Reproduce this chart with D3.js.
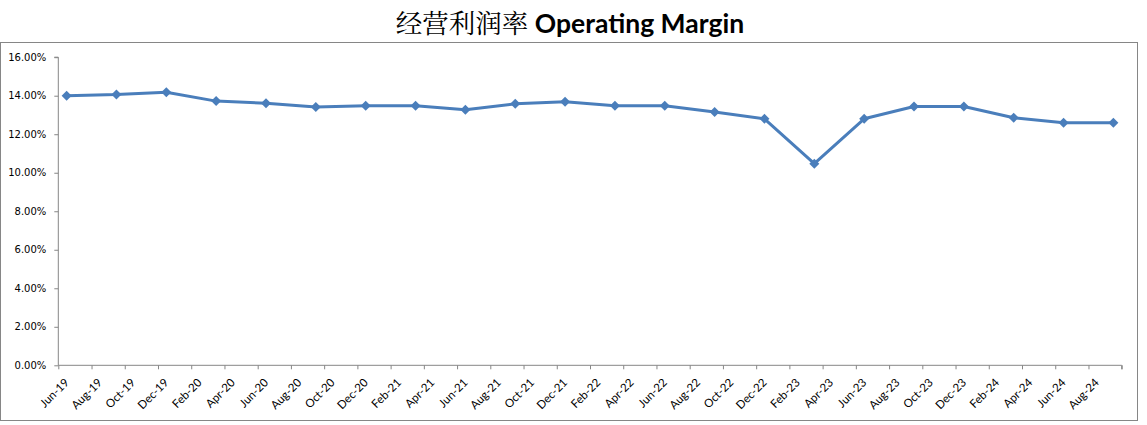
<!DOCTYPE html>
<html>
<head>
<meta charset="utf-8">
<script src="https://cdn.jsdelivr.net/npm/d3@7"></script>
<style>
  html, body { margin: 0; padding: 0; background: #fff; }
  svg { display: block; }
</style>
</head>
<body>
<svg id="chart" width="1147" height="425"></svg>
<script>
// ---- data ----
const periods = ["2019-06","2019-09","2019-12","2020-03","2020-06","2020-09","2020-12","2021-03",
  "2021-06","2021-09","2021-12","2022-03","2022-06","2022-09","2022-12","2023-03",
  "2023-06","2023-09","2023-12","2024-03","2024-06","2024-09"];
const margins = [0.1400,0.1406,0.1418,0.1372,0.1361,0.1341,0.1348,0.1348,
  0.1327,0.1358,0.1369,0.1348,0.1348,0.1315,0.1280,0.1047,
  0.1280,0.1344,0.1344,0.1286,0.1260,0.1260];
const xTickLabels = ["Jun-19","Aug-19","Oct-19","Dec-19","Feb-20","Apr-20","Jun-20","Aug-20",
  "Oct-20","Dec-20","Feb-21","Apr-21","Jun-21","Aug-21","Oct-21","Dec-21",
  "Feb-22","Apr-22","Jun-22","Aug-22","Oct-22","Dec-22","Feb-23","Apr-23",
  "Jun-23","Aug-23","Oct-23","Dec-23","Feb-24","Apr-24","Jun-24","Aug-24"];
const yTicks = [0,0.02,0.04,0.06,0.08,0.10,0.12,0.14,0.16];
const startMonth = "2019-06";
const monthCount = 64;
const titleCn = "经营利润率";
const titleEn = "Operating Margin";

// ---- layout ----
const svg = d3.select("#chart");
const L = 58.3, R = 1121.7, T = 57.2, B = 365.3;
const lineColor = "#4a7ebb", axisColor = "#868686";

function monthIndex(s) {
  const [y, m] = s.split("-").map(Number);
  const [y0, m0] = startMonth.split("-").map(Number);
  return (y - y0) * 12 + (m - m0);
}

const x = d3.scaleLinear().domain([0, monthCount]).range([L, R]);
const y = d3.scaleLinear().domain([0, 0.16]).range([B, T]);

// outer border
svg.append("rect").attr("x", 0.5).attr("y", 42.5).attr("width", 1137).attr("height", 378)
  .attr("fill", "#fff").attr("stroke", axisColor).attr("stroke-width", 1);

// title
const title = svg.append("text").attr("x", 570).attr("y", 33).attr("text-anchor", "middle")
  .attr("fill", "#000");
title.append("tspan").text(titleCn)
  .attr("font-family", "'Noto Serif CJK SC','Noto Sans CJK SC',serif").attr("font-size", 26.5);
title.append("tspan").text(" " + titleEn)
  .attr("font-family", "Lato, 'Open Sans', sans-serif").attr("font-weight", "bold").attr("font-size", 26.5);

// y axis
const yAxis = d3.axisLeft(y).tickValues(yTicks).tickFormat(d3.format(".2%")).tickSize(4).tickPadding(8);
const gy = svg.append("g").attr("transform", `translate(${L},0)`).call(yAxis);
gy.select(".domain").attr("stroke", axisColor).attr("d", `M-4,${y(0.16)}H0V${B}`);
gy.selectAll(".tick line").attr("stroke", axisColor);
gy.selectAll(".tick text").attr("font-family", "'DejaVu Sans', Verdana, sans-serif")
  .attr("font-size", 10).attr("fill", "#000");

// x axis (ticks every 2 months at slot boundaries)
const tickIdx = d3.range(0, monthCount + 1, 2);
const xAxis = d3.axisBottom(x).tickValues(tickIdx).tickFormat("").tickSize(4);
const gx = svg.append("g").attr("transform", `translate(0,${B})`).call(xAxis);
gx.select(".domain").attr("stroke", axisColor).attr("d", `M${L},0H${R}V4`);
gx.selectAll(".tick line").attr("stroke", axisColor);

// x labels at category centres
svg.append("g").selectAll("text").data(xTickLabels).join("text")
  .attr("transform", (d, i) => `translate(${x(i * 2 + 0.5) + 3},${B + 18}) rotate(-45)`)
  .attr("text-anchor", "end")
  .attr("font-family", "Lato, 'Open Sans', sans-serif").attr("font-size", 11.5).attr("fill", "#000")
  .text(d => d);

// line + markers
const pts = periods.map((p, i) => ({ xi: monthIndex(p) + 0.5, v: margins[i] }));
const line = d3.line().x(d => x(d.xi)).y(d => y(d.v));
svg.append("path").datum(pts).attr("d", line).attr("fill", "none")
  .attr("stroke", lineColor).attr("stroke-width", 3).attr("stroke-linejoin", "round");
svg.append("g").selectAll("path").data(pts).join("path")
  .attr("transform", d => `translate(${x(d.xi)},${y(d.v)})`)
  .attr("d", "M0,-5L5,0L0,5L-5,0Z").attr("fill", lineColor);
</script>
</body>
</html>
